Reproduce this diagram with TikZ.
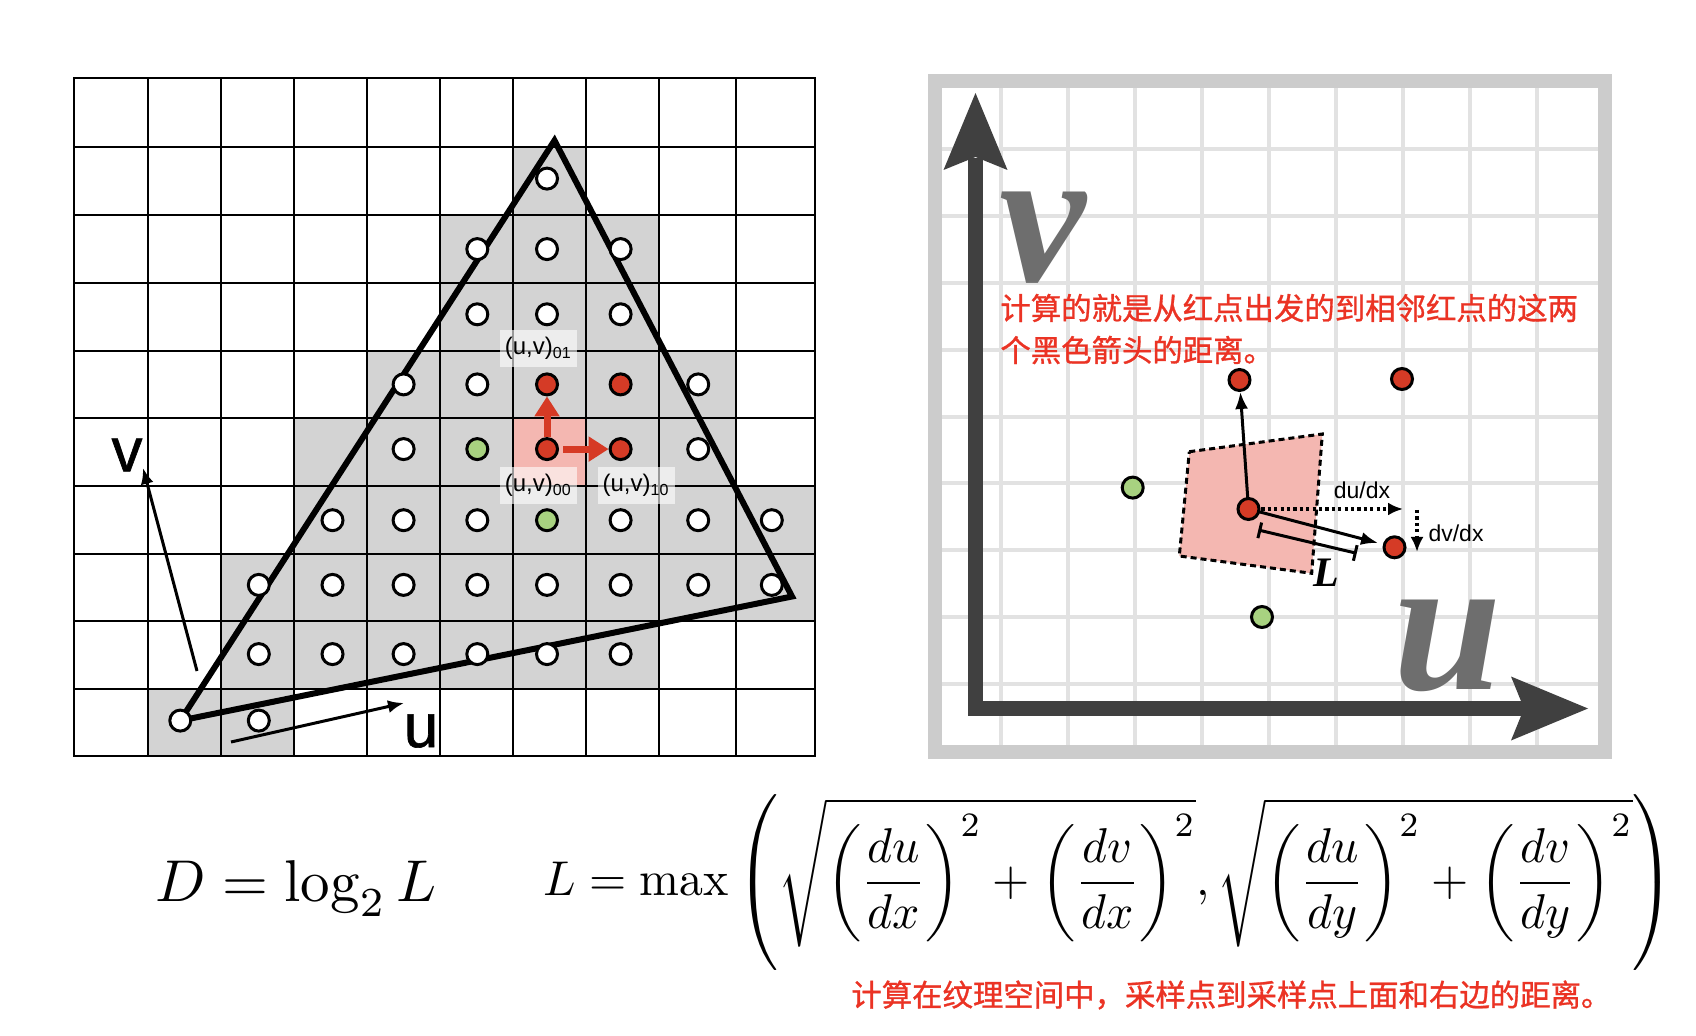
\RequirePackage{fix-cm}
\documentclass[tikz,border=0pt]{standalone}
\usepackage{amsmath}
\usepackage{bm}
\usepackage{graphicx}
\usepackage{fontspec}
\usetikzlibrary{arrows.meta}
\newfontfamily\cjk{Noto Sans CJK SC}[FakeBold=1]
\newfontfamily\hv{Liberation Sans}
\newfontfamily\hvb{Liberation Sans}[FakeBold=1]
\newfontfamily\lser{Liberation Serif}
\definecolor{cellgray}{RGB}{211,211,211}
\definecolor{pinkc}{RGB}{244,183,177}
\definecolor{redd}{RGB}{213,59,38}
\definecolor{greend}{RGB}{168,210,128}
\definecolor{axisgray}{RGB}{64,64,64}
\definecolor{bordergray}{RGB}{204,204,204}
\definecolor{gridlight}{RGB}{226,226,226}
\definecolor{letgray}{RGB}{110,110,110}
\definecolor{redtxt}{RGB}{235,51,36}
\definecolor{redarr}{RGB}{214,58,37}
\def\cx{{0,180.3,258.8,332.5,403.6,477.3,547,620.6,698.2,771.8}}
\def\ry{{0,178.6,249.1,314.3,384.4,449.1,520.2,584.9,654.1,720.6}}
\begin{document}
\begin{tikzpicture}[x=0.5pt,y=-0.5pt,
  gridline/.style={line width=1.4pt, black},
  tri/.style={line width=3pt, black, line join=miter},
  sdot/.style={circle, draw=black, line width=1.5pt, minimum size=10.5pt, inner sep=0pt},
  uvlbl/.style={fill=white, fill opacity=0.6, text opacity=1, minimum width=38.5pt, minimum height=18.5pt, inner sep=0pt, font=\hv\fontsize{12}{13}\selectfont},
  redarrow/.style={redarr, line width=3.5pt, arrows={-Triangle[width=12pt,length=10pt]}},
  thinarrow/.style={line width=1.5pt, arrows={-Latex[length=8pt,width=6.5pt]}},
  sanslbl/.style={inner sep=0pt, font=\hvb\fontsize{31}{31}\selectfont},
  rgrid/.style={gridlight, line width=2pt},
  axisline/.style={axisgray, line width=7.3pt, line join=miter},
  bigletter/.style={inner sep=0pt, text=letgray, font=\lser\bfseries\itshape\fontsize{97.5}{98}\selectfont},
  rednote/.style={inner sep=0pt, anchor=west, text=redtxt, font=\cjk\fontsize{15.2}{18}\selectfont},
  pinkquad/.style={fill=pinkc, draw=black, line width=1.5pt, dash pattern=on 3pt off 2pt},
  blkarrow/.style={line width=1.5pt, arrows={-Latex[length=8.5pt,width=6.5pt]}},
  dotarrow/.style={line width=1.6pt, dash pattern=on 1.6pt off 1.6pt, arrows={-Latex[length=7.5pt,width=6.5pt]}},
  lbar/.style={line width=1.5pt, arrows={Bar[width=8pt]-Bar[width=8pt]}},
  smalllbl/.style={inner sep=0pt, font=\hv\fontsize{11.5}{13}\selectfont},
]
\useasboundingbox (0,0) rectangle (1696,1036);
\fill[white] (0,0) rectangle (1696,1036);

% ---------------- left panel ----------------
\fill[cellgray] (513,147) rectangle (586,215);
\fill[cellgray] (440,215) rectangle (659,351);
\fill[cellgray] (367,351) rectangle (736,418);
\fill[cellgray] (294,418) rectangle (736,486);
\fill[cellgray] (294,486) rectangle (815,554);
\fill[cellgray] (221,554) rectangle (815,621);
\fill[cellgray] (221,621) rectangle (659,689);
\fill[cellgray] (148,689) rectangle (294,756);
\fill[pinkc] (513,418) rectangle (586,486);

\foreach \x in {74,148,221,294,367,440,513,586,659,736,815}
  \draw[gridline] (\x,78) -- (\x,756);
\foreach \y in {78,147,215,283,351,418,486,554,621,689,756}
  \draw[gridline] (74,\y) -- (815,\y);
\draw[gridline, line join=miter] (74,78) rectangle (815,756);

\coordinate (tA) at (180.3,720.6);
\coordinate (tB) at (554.5,140.5);
\coordinate (tC) at (792,596.5);
\draw[tri] (tA) -- (tB) -- (tC) -- cycle;

\node[uvlbl] (l01) at (538.3,348.3) {(u,v)\textsubscript{01}};
\node[uvlbl] (l00) at (538.3,485.3) {(u,v)\textsubscript{00}};
\node[uvlbl] (l10) at (636,485.3) {(u,v)\textsubscript{10}};

\foreach \c/\r/\k in {6/1/white, 5/2/white, 6/2/white, 7/2/white,
  5/3/white, 6/3/white, 7/3/white,
  4/4/white, 5/4/white, 6/4/redd, 7/4/redd, 8/4/white,
  4/5/white, 5/5/greend, 6/5/redd, 7/5/redd, 8/5/white,
  3/6/white, 4/6/white, 5/6/white, 6/6/greend, 7/6/white, 8/6/white, 9/6/white,
  2/7/white, 3/7/white, 4/7/white, 5/7/white, 6/7/white, 7/7/white, 8/7/white, 9/7/white,
  2/8/white, 3/8/white, 4/8/white, 5/8/white, 6/8/white, 7/8/white,
  1/9/white, 2/9/white}
{\pgfmathsetmacro\px{\cx[\c]}\pgfmathsetmacro\py{\ry[\r]}
 \node[sdot, fill=\k] (p\c\r) at (\px,\py) {};}

\draw[redarrow] (p65.north) -- (p64.south);
\draw[redarrow, shorten <=2pt] (p65.east) -- (p75.west);

\coordinate (vtail) at (197,671);
\coordinate (vtip) at (143,468);
\draw[thinarrow] (vtail) -- (vtip);
\node[sanslbl] (vlab) at (127,455) {v};
\coordinate (utail) at (231,742);
\coordinate (utip) at (404,703);
\draw[thinarrow] (utail) -- (utip);
\node[sanslbl] (ulab) at (421,731) {u};

% ---------------- right panel ----------------
\draw[bordergray, line width=7pt, fill=white] (934.5,81) rectangle (1605,752);
\foreach \i in {0,...,8} {
  \draw[rgrid] ({1001+67.05*\i},88) -- ({1001+67.05*\i},745);
  \draw[rgrid] (941.5,{149+66.9*\i}) -- (1598,{149+66.9*\i});
}
\coordinate (vax) at (975.5,158);
\coordinate (org) at (975.5,708.5);
\coordinate (uax) at (1526,708.5);
\draw[axisline] (vax) -- (org) -- (uax);
\fill[axisgray] (975.5,93) -- (1007.5,170) -- (975.5,157) -- (943.5,170) -- cycle;
\fill[axisgray] (1588,708.5) -- (1511,740.5) -- (1524,708.5) -- (1511,676.5) -- cycle;

\node[bigletter] (bigv) at (1043,238) {v};
\node[bigletter] (bigu) at (1448,646) {u};

\node[rednote] (note1a) at (1000,308) {计算的就是从红点出发的到相邻红点的这两};
\node[rednote] (note1b) at (1000,350) {个黑色箭头的距离。};

\coordinate (q1) at (1189.3,451.7);
\coordinate (q2) at (1322.3,434);
\coordinate (q3) at (1311.7,573.3);
\coordinate (q4) at (1179.3,556);
\draw[pinkquad] (q1) -- (q2) -- (q3) -- (q4) -- cycle;

\node[sdot, fill=redd] (UL) at (1239.5,380) {};
\node[sdot, fill=redd] (UR) at (1402,379) {};
\node[sdot, fill=redd] (LR) at (1394.5,547.3) {};
\node[sdot, fill=greend] (G1) at (1132.7,487.6) {};
\node[sdot, fill=greend] (G2) at (1262,617) {};

\coordinate (Cc) at (1248.5,509);
\coordinate (duend) at (1403,509);
\coordinate (dvs) at (1417,510);
\coordinate (dve) at (1417,552);
\draw[dotarrow] (Cc) -- (duend);
\draw[dotarrow] (dvs) -- (dve);
\draw[blkarrow] (Cc) -- (UL);
\draw[blkarrow, shorten >=2.5pt] (Cc) -- (LR);
\node[sdot, fill=redd] (C) at (Cc) {};

\coordinate (L1) at (1258.3,530);
\coordinate (L2) at (1356.7,553.3);
\draw[lbar] (L1) -- (L2);
\node[inner sep=0pt, font=\lser\bfseries\itshape\fontsize{21}{21}\selectfont] (Llab) at (1326,573) {L};
\node[smalllbl] (dudx) at (1362,490.5) {du/dx};
\node[smalllbl] (dvdx) at (1456,533) {dv/dx};

% ---------------- formulas ----------------
\node[anchor=base west, inner sep=0pt] (dform) at (155,901) {\resizebox{140.5pt}{!}{$D=\log_2 L$}};
\node[anchor=west, inner sep=0pt] (lform) at (543,883) {\resizebox*{565.5pt}{88pt}{$\displaystyle L=\max\left(\sqrt{\left(\frac{du}{dx}\right)^{2}+\left(\frac{dv}{dx}\right)^{2}},\sqrt{\left(\frac{du}{dy}\right)^{2}+\left(\frac{dv}{dy}\right)^{2}}\right)$}};
\node[rednote] (note2) at (851,995) {计算在纹理空间中，采样点到采样点上面和右边的距离。};
\end{tikzpicture}
\end{document}
